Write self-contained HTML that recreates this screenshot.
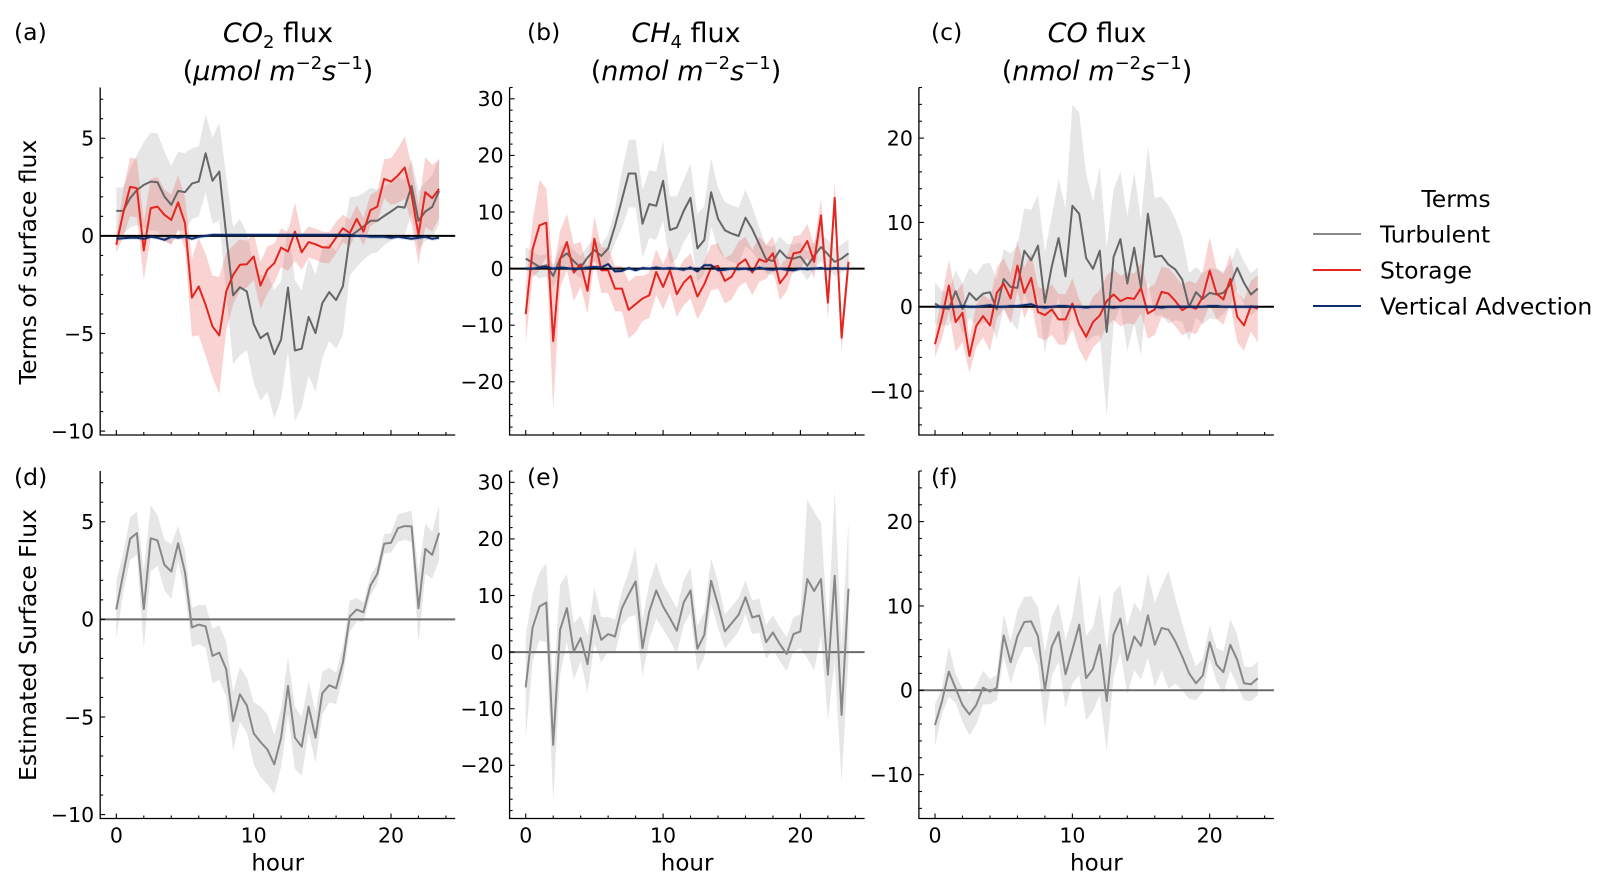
<!DOCTYPE html>
<html><head><meta charset="utf-8"><style>
body{margin:0;background:#fff;}
svg{display:block;font-family:"DejaVu Sans","Liberation Sans",sans-serif;}
</style></head><body>
<svg id="fig" width="1613" height="888" viewBox="0 0 1613 888" xmlns="http://www.w3.org/2000/svg"></svg>
<script>
const hours = Array.from({length:48},(_,i)=>i*0.5);
// Panel a: CO2 terms
const aTurb = [1.28,1.28,1.93,2.35,2.61,2.78,2.75,2.01,1.59,2.30,2.24,2.68,2.78,4.23,2.82,3.29,0.05,-3.05,-2.63,-2.85,-4.52,-5.24,-4.98,-6.06,-5.32,-2.65,-5.87,-5.78,-4.15,-4.98,-3.45,-2.88,-3.29,-2.58,-0.03,0.22,0.48,0.77,0.77,1.02,1.25,1.50,1.45,2.56,0.77,1.25,1.48,2.30];
const aTurbErr = [1.2,1.2,1.5,1.8,2.2,2.5,2.5,2.3,2.0,2.0,2.0,1.8,1.8,2.0,2.2,2.5,3.0,3.5,3.5,3.0,3.0,3.2,3.0,3.3,3.0,3.3,3.6,3.0,3.0,3.0,2.8,2.5,2.5,2.5,2.0,1.8,1.7,1.7,1.6,1.5,1.5,1.5,1.4,1.4,1.5,1.5,1.6,1.7];
const aStor = [-0.46,1.16,2.51,2.44,-0.75,1.42,1.50,1.08,0.82,1.72,0.65,-3.16,-2.59,-3.53,-4.64,-5.10,-2.85,-2.00,-1.48,-1.45,-1.06,-2.54,-1.74,-1.40,-0.60,-0.80,0.22,-0.84,-0.32,-0.43,-0.58,-0.60,-0.09,0.39,0.14,0.87,0.22,1.31,1.50,2.92,2.78,3.09,3.50,2.10,0.05,2.24,1.93,2.41];
const aStorErr = [0.4,1.2,1.5,1.5,1.5,1.5,1.5,1.3,1.3,1.4,1.3,2.0,2.5,2.6,2.6,3.0,2.0,1.5,1.3,1.2,1.2,1.2,1.2,1.0,1.0,1.0,1.5,0.9,0.8,0.8,0.8,0.8,0.8,0.7,0.7,0.7,0.7,0.8,0.8,1.0,1.2,1.4,1.6,1.5,1.5,1.8,1.7,1.5];
const aAdv = [-0.15,-0.12,-0.1,-0.1,-0.15,-0.05,-0.1,-0.2,-0.05,-0.1,-0.05,-0.15,-0.05,0,0.05,0.05,0.05,0.05,0.05,0.05,0.05,0.05,0.05,0.05,0.05,0.05,0.05,0.05,0.05,0.05,0.05,0.05,0.05,0.05,0.05,0,0,-0.05,-0.05,-0.05,-0.1,-0.05,-0.1,-0.15,-0.1,-0.05,-0.15,-0.1];
// Panel b: CH4 terms
const bTurb = [1.76,1.06,0.29,0.59,-1.29,1.76,2.71,1.3,0.18,1.94,3.29,2.24,3.53,7.53,12.2,16.8,16.8,7.94,11.4,11.1,15.5,6.82,7.24,10.2,12.5,3.59,5.06,13.5,8.82,6.76,6.18,5.76,9.0,6.94,4.29,1.65,1.35,3.24,1.94,1.76,2.12,0.47,2.24,3.82,2.53,1.18,1.76,2.71];
const bTurbErr = [2,2,2,2,2,2,2,2,2,2,2,2,2.5,3,5,6,6,6,6,6,7,6,5.5,5.5,6,6,6,6,5.5,5,5,5,5,4,3,2.5,2.5,2.5,2.5,2.5,2.5,2.5,2.5,2.5,2.5,2.5,2.5,2.5];
const bStor = [-8.06,3.41,7.65,8.12,-12.8,1.65,4.71,-0.71,0.76,-3.94,5.29,-0.29,-0.29,-3.53,-3.53,-7.29,-6.29,-5.29,-4.71,-0.59,-3.24,-0.29,-4.53,-2.47,-1.29,-4.94,-2.76,0.18,0.47,-2.18,-1.41,0.76,1.65,-0.71,1.65,1.18,2.71,-2.59,-1.0,2.71,2.94,4.88,1.18,9.41,-6.0,12.5,-12.2,1.18];
const bStorErr = [5,5,8,6,12,5,5,5,4,4,4,4,4,4,4,5,5,4,4,4,4,4,4,4,4,4,4,4,4,4,4,4,4,4,4,3,3,3,3,3,3,3,3,3,3,3,2.5,2.5];
const bAdv = [0,0,0.2,0.3,0,0.2,0.1,-0.1,0,0.2,0.3,0.2,0.8,-0.5,-0.4,0.1,-0.3,0.1,0,0.2,0,0.1,0,-0.2,0.2,-0.5,0.6,0.6,-0.3,-0.2,0,-0.1,0,-0.3,0.2,-0.1,-0.2,0,-0.2,-0.3,0,-0.1,0,0.1,-0.1,0.1,0,0];
// Panel c: CO terms
const cTurb = [0.39,-0.12,-0.24,1.85,-0.24,1.65,0.79,1.57,1.73,-0.31,3.31,2.36,2.24,6.65,5.51,7.24,0.47,4.80,8.15,3.62,11.97,11.02,5.79,4.49,6.65,-2.99,5.91,8.03,2.76,7.01,2.24,11.02,5.91,6.06,5.0,4.41,3.23,0,1.73,0.94,1.65,1.46,1.65,2.64,4.61,2.83,1.46,2.17];
const cTurbErr = [2.5,2,2,2.5,3,3,3,3.5,3.5,3.5,3.5,4,5,5,6,6,6,6,7,8,12,12,10,8,10,10,8,8,8,9,8,8,7,7,7,6,5,4,3,3,3,3,2.5,2.5,2.5,2.5,2.5,2.5];
const cStor = [-4.45,-1.30,2.52,-1.81,-0.71,-5.83,-2.28,-1.10,-2.20,1.65,2.76,0.98,4.88,1.65,3.43,-0.63,-0.98,-0.31,-1.50,-1.50,0.39,-2.09,-3.54,-1.81,-1.02,0.67,1.46,0.67,1.06,0.94,2.20,-0.79,-0.31,1.77,1.57,0.67,-0.39,0.08,-0.24,1.18,4.29,1.57,0.87,3.31,-1.18,-2.20,0.08,-0.24];
const cStorErr = [1.5,2.5,3,3.5,3.5,2,2.5,2.5,3,3,3,3,3,3,3,3,3,3,3,3,3,3,3,3,3,3,3,3,3,3,3,3,3,3,3,3,3,3,3,3,4,3,3,3,3,3,3,4];
const cAdv = [0,0,0,0,0.1,0,0,0.1,0.2,0,0,0.1,0.1,0.2,0.3,0,-0.1,0,0.1,0.1,0,0,-0.1,0,0,0,-0.1,0,0,0,0,0,0,-0.1,0,0,0,0,0,0,0.1,0.1,0,0,0,0,0,0];
// Panels d,e,f: estimated surface flux
const dFlux = [0.50,2.33,4.13,4.42,0.53,4.16,4.04,2.79,2.45,3.90,2.41,-0.41,-0.27,-0.36,-1.87,-1.70,-2.55,-5.21,-3.84,-4.40,-5.84,-6.28,-6.66,-7.43,-6.06,-3.41,-6.06,-6.52,-4.47,-6.06,-3.78,-3.37,-3.53,-2.21,0.15,0.50,0.36,1.73,2.33,3.87,3.92,4.67,4.78,4.76,0.57,3.61,3.30,4.43];
const dErr = [1.5,1.0,1.1,1.1,2.0,1.7,1.3,1.3,1.4,0.9,1.1,1.0,1.0,1.1,1.4,1.4,1.4,1.5,1.4,1.4,1.6,1.8,1.8,1.5,1.5,1.5,1.6,1.5,1.3,1.3,1.1,0.9,0.8,0.8,0.8,0.6,0.5,0.5,0.5,0.5,0.5,0.7,0.7,0.8,1.8,1.3,1.2,1.4];
const eFlux = [-6.24,4.35,8.06,8.76,-16.4,3.94,7.76,0.12,2.47,-2.12,6.47,2.18,3.18,2.76,7.76,10.2,12.5,0.71,7.18,10.9,8.06,6.0,3.76,8.76,10.9,0.59,3.06,12.6,8.35,3.65,5.12,6.59,9.71,6.12,6.47,1.76,3.47,1.41,-0.35,3.18,3.65,12.9,10.8,12.9,-4.0,13.5,-11.1,11.2];
const eErr = [9,6,6,7,10,8,6,5,4,5,5,4,3,3,3,4,6,5,5,5,4,4,4,4,4,4,4,4,4,3,3,3,3,3,3,3,3,3,3,3,3,14,14,10,8,15,12,12];
const fFlux = [-4.13,-1.35,2.22,0.24,-1.75,-2.86,-1.75,0.32,-0.16,0.32,6.51,3.33,6.39,8.10,8.17,6.39,0.04,5.20,6.90,1.90,4.80,7.78,1.43,2.54,5.40,-1.27,6.59,8.49,3.57,6.39,5.28,8.89,5.40,7.38,7.18,5.79,4.01,2.02,0.83,1.75,5.71,3.02,2.14,5.40,3.61,0.83,0.71,1.43];
const fErr = [2.5,1.5,3,1.7,2,2.5,2.3,2,1.5,1.5,2.5,2.5,3,3,3,3.5,4.5,3.5,3.5,4,4,6,5,5,6,6,5,4,4,4,4,5,5,5,7,5,4,3,2,2,2,2,2.5,3,3,2,2,2];
const co2Ticks = [-10,-5,0,5];
const ch4Ticks = [-20,-10,0,10,20,30];
const coTicks = [-10,0,10,20];
const hourTicks = [0,10,20];

const NS="http://www.w3.org/2000/svg";
const svg=document.getElementById('fig');
function el(tag,attrs,parent){const e=document.createElementNS(NS,tag);for(const k in attrs)e.setAttribute(k,attrs[k]);(parent||svg).appendChild(e);return e;}

const XLIM=[-1.175,24.675];
const cols=[100.2,509.6,918.9], W=355;
const rows=[[87.5,435],[471,818.5]];
const ylims={co2:[-10.2,7.6],ch4:[-29.4,32],co:[-15.2,26]};
const minorStep={co2:1,ch4:2,co:2};
const majorTicks={co2:co2Ticks,ch4:ch4Ticks,co:coTicks};
const TICKFS=20.5;

function makeAxes(col,row,kind,name){
  const x0=cols[col], x1=x0+W, y0=rows[row][0], y1=rows[row][1];
  const yl=ylims[kind];
  const sx=h=>x0+(h-XLIM[0])/(XLIM[1]-XLIM[0])*W;
  const sy=v=>y1-(v-yl[0])/(yl[1]-yl[0])*(y1-y0);
  const g=el('g',{});
  
  
  return {g,sx,sy,x0,x1,y0,y1,kind,row};
}
function band(ax,vals,err,fill,op,name){
  let d='';
  vals.forEach((v,i)=>{d+=(i?'L':'M')+ax.sx(hours[i]).toFixed(1)+','+ax.sy(v+err[i]).toFixed(1);});
  for(let i=vals.length-1;i>=0;i--) d+='L'+ax.sx(hours[i]).toFixed(1)+','+ax.sy(vals[i]-err[i]).toFixed(1);
  const p=el('path',{d:d+'Z',fill:fill,'fill-opacity':op,stroke:'none'},ax.g);
  
  
}
function line(ax,vals,color,w,name){
  const pts=vals.map((v,i)=>ax.sx(hours[i]).toFixed(1)+','+ax.sy(v).toFixed(1)).join(' ');
  const p=el('polyline',{points:pts,fill:'none',stroke:color,'stroke-width':w,'stroke-linejoin':'round'},ax.g);
  
  
}
function zero(ax,color){
  const l=el('line',{x1:ax.x0,x2:ax.x1,y1:ax.sy(0),y2:ax.sy(0),stroke:color,'stroke-width':2},ax.g);
  
  
}
function frame(ax,xlabels){
  const s=el('path',{d:`M${ax.x0},${ax.y0}V${ax.y1}H${ax.x1}`,fill:'none',stroke:'#000','stroke-width':1.3},ax.g);
  
  
  const yl=ylims[ax.kind], st=minorStep[ax.kind];
  for(let v=Math.ceil(yl[0]/st)*st; v<=yl[1]; v+=st){
    const major=majorTicks[ax.kind].includes(v);
    el('line',{x1:ax.x0,x2:ax.x0+(major?5:3),y1:ax.sy(v),y2:ax.sy(v),stroke:'#000','stroke-width':1.1},ax.g);
  }
  majorTicks[ax.kind].forEach(v=>{
    const t=el('text',{x:ax.x0-6,y:ax.sy(v)+7.3,'text-anchor':'end','font-size':TICKFS,fill:'#000'},ax.g);
    t.textContent=(v<0?'\u2212'+(-v):String(v));
    
    
  });
  for(let h=0;h<=24;h+=2){
    const major=hourTicks.includes(h);
    el('line',{x1:ax.sx(h),x2:ax.sx(h),y1:ax.y1,y2:ax.y1-(major?5:3),stroke:'#000','stroke-width':1.1},ax.g);
  }
  if(xlabels){
    hourTicks.forEach(h=>{
      const t=el('text',{x:ax.sx(h),y:ax.y1+24,'text-anchor':'middle','font-size':TICKFS},ax.g);
      t.textContent=String(h);
      
      
    });
    const t=el('text',{x:(ax.x0+ax.x1)/2,y:ax.y1+52,'text-anchor':'middle','font-size':23},ax.g);
    t.textContent='hour';
    
    
  }
}
const GRAY='#666666', RED='#e3261f', BLUE='#0c2c6e';
const terms=[[aTurb,aTurbErr,aStor,aStorErr,aAdv,'co2','panel-a-co2-terms'],[bTurb,bTurbErr,bStor,bStorErr,bAdv,'ch4','panel-b-ch4-terms'],[cTurb,cTurbErr,cStor,cStorErr,cAdv,'co','panel-c-co-terms']];
terms.forEach((t,c)=>{
  const ax=makeAxes(c,0,t[5],t[6]);
  band(ax,t[0],t[1],'#c8c8c8',0.45,'turbulent-band');
  band(ax,t[2],t[3],'#ec6a6a',0.3,'storage-band');
  band(ax,t[4],t[4].map(()=>0.1*(ylims[t[5]][1]-ylims[t[5]][0])/18),'#4a6fb0',0.25,'advection-band');
  line(ax,t[0],GRAY,2,'turbulent-line');
  line(ax,t[2],RED,2,'storage-line');
  zero(ax,'#000');
  line(ax,t[4],BLUE,2,'vertical-advection-line');
  frame(ax,false);
});
const est=[[dFlux,dErr,'co2','panel-d-co2-estimated'],[eFlux,eErr,'ch4','panel-e-ch4-estimated'],[fFlux,fErr,'co','panel-f-co-estimated']];
est.forEach((t,c)=>{
  const ax=makeAxes(c,1,t[2],t[3]);
  band(ax,t[0],t[1],'#c8c8c8',0.45,'estimated-flux-band');
  zero(ax,'#6a6a6a');
  line(ax,t[0],'#888888',2,'estimated-flux-line');
  frame(ax,true);
});
function txt(x,y,s,size,name,anchor,extra){
  const t=el('text',Object.assign({x:x,y:y,'font-size':size,'text-anchor':anchor||'start'},extra||{}));
  t.innerHTML=s;
  
  
  return t;
}
txt(14,40,'(a)',23.5,'panel-label-a');
txt(527,40,'(b)',23.5,'panel-label-b');
txt(931,40,'(c)',23.5,'panel-label-c');
txt(14,485,'(d)',23.5,'panel-label-d');
txt(527,485,'(e)',23.5,'panel-label-e');
txt(931,485,'(f)',23.5,'panel-label-f');
const T=27, S=18;
txt(278,42,'<tspan font-style="italic">CO</tspan><tspan font-size="'+S+'" dy="6">2</tspan><tspan dy="-6"> flux</tspan>',T,'title-co2','middle');
txt(278,80,'(<tspan font-style="italic">μmol m</tspan><tspan font-size="'+S+'" dy="-11">−2</tspan><tspan font-style="italic" dy="11">s</tspan><tspan font-size="'+S+'" dy="-11">−1</tspan><tspan dy="11">)</tspan>',T,'title-co2-units','middle');
txt(686,42,'<tspan font-style="italic">CH</tspan><tspan font-size="'+S+'" dy="6">4</tspan><tspan dy="-6"> flux</tspan>',T,'title-ch4','middle');
txt(686,80,'(<tspan font-style="italic">nmol m</tspan><tspan font-size="'+S+'" dy="-11">−2</tspan><tspan font-style="italic" dy="11">s</tspan><tspan font-size="'+S+'" dy="-11">−1</tspan><tspan dy="11">)</tspan>',T,'title-ch4-units','middle');
txt(1097,42,'<tspan font-style="italic">CO</tspan> flux',T,'title-co','middle');
txt(1097,80,'(<tspan font-style="italic">nmol m</tspan><tspan font-size="'+S+'" dy="-11">−2</tspan><tspan font-style="italic" dy="11">s</tspan><tspan font-size="'+S+'" dy="-11">−1</tspan><tspan dy="11">)</tspan>',T,'title-co-units','middle');
txt(0,0,'Terms of surface flux',23.5,'y-axis-title-top','middle',{transform:'translate(36,262) rotate(-90)'});
txt(0,0,'Estimated Surface Flux',23.5,'y-axis-title-bottom','middle',{transform:'translate(36,645) rotate(-90)'});
// legend
const lg=el('g',{});


const lt=el('text',{x:1456,y:207,'text-anchor':'middle','font-size':23.5},lg);lt.textContent='Terms';


[['Turbulent','#888888',234],['Storage',RED,270],['Vertical Advection',BLUE,306]].forEach(e=>{
  const l=el('line',{x1:1313,x2:1361,y1:e[2],y2:e[2],stroke:e[1],'stroke-width':2},lg);
  
  
  const t=el('text',{x:1380,y:e[2]+8.5,'font-size':23.5},lg);t.textContent=e[0];
  
  
});
</script>
</body></html>
